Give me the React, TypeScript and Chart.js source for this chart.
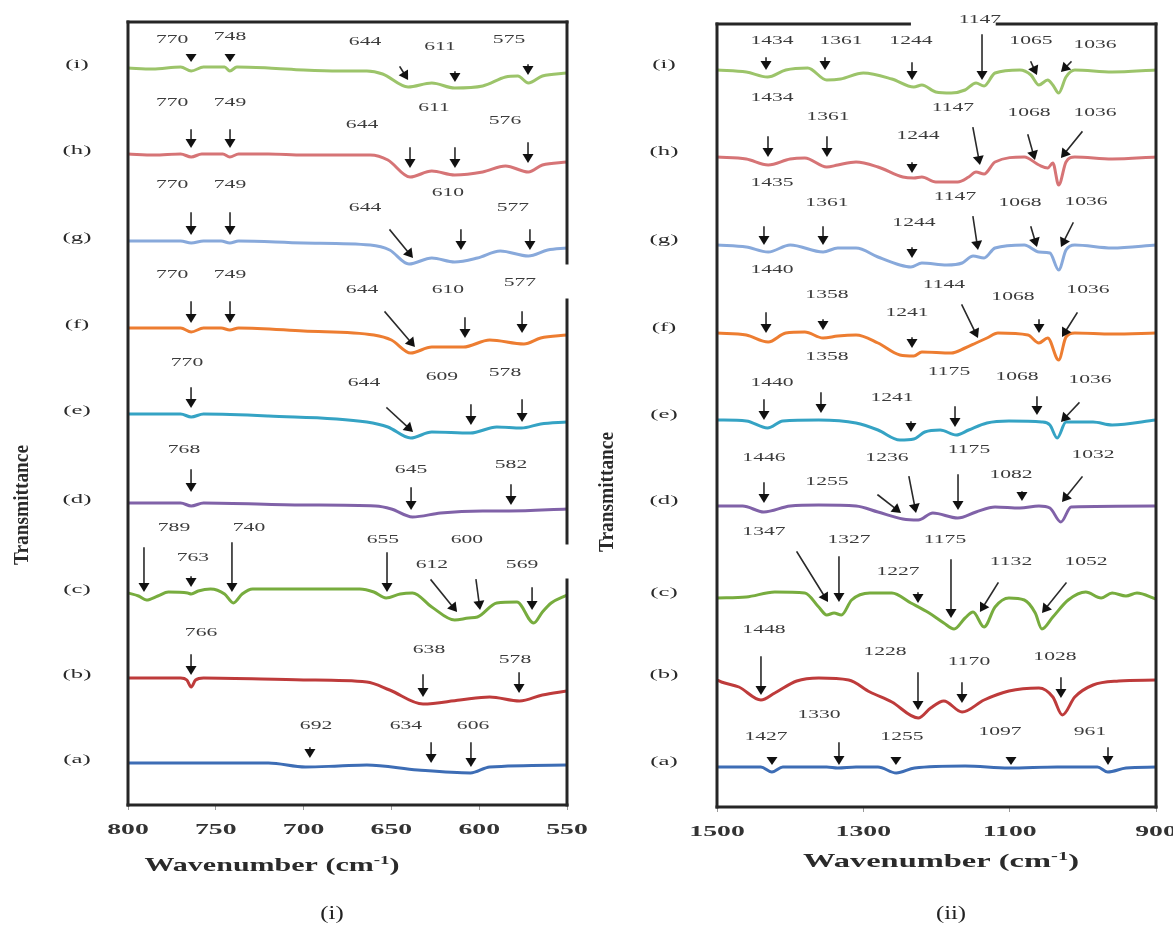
import React, { useEffect, useRef } from "react";
import { Chart, registerables } from "chart.js";

Chart.register(...registerables);

type Pt = [number, number];
// [label, tipWn, tipT, tailWn, tailT, labelWn, labelT]
type Ann = [string, number, number, number, number, number, number];

const seriesNames = ["(a)", "(b)", "(c)", "(d)", "(e)", "(f)", "(g)", "(h)", "(i)"];
const seriesColors = ["#3D6DB5", "#BE3B3B", "#77AC3E", "#8062A8", "#35A3C4", "#ED7D31", "#88A9DB", "#D67476", "#9CC46A"];

// Panel (i): wavenumber (cm-1), transmittance (a.u., stacked)
const left_a: Pt[] = [[800, 42], [720, 42], [699, 38], [680, 39], [664, 40], [635, 35], [605, 32], [594, 38], [550, 40]];
const left_b: Pt[] = [[800, 127], [770, 127], [766.5, 125], [764, 118], [761.5, 125], [757, 127], [700, 125], [664, 123], [651, 115], [632, 101], [611, 105], [594, 108], [577, 104], [564, 110], [550, 114]];
const left_c: Pt[] = [[800, 212], [794, 209], [789.5, 205], [783, 209], [777, 213], [766, 212], [764, 211], [760, 214], [753, 216], [745, 211], [740, 202], [735, 211], [729, 216], [700, 216], [668, 216], [660, 213], [653, 207], [645, 211], [638, 212], [627, 198], [614, 185], [606, 187], [601, 188], [590, 202], [578.5, 203], [569, 182], [564, 193], [559, 202], [550, 210]];
const left_d: Pt[] = [[800, 302], [770, 302], [764, 299], [757, 302], [700, 300], [659, 299], [650, 296], [638, 288], [622, 292], [598, 294], [583, 294], [550, 296]];
const left_e: Pt[] = [[800, 391], [770, 391], [764, 388], [757, 391], [720, 389], [664, 383], [652, 378], [639, 367], [627, 373], [605, 372], [590, 378], [576, 377], [565, 381], [550, 383]];
const left_f: Pt[] = [[800, 477], [770, 477], [764, 473], [757, 477], [747, 477], [742, 475], [737, 477], [700, 474], [660, 470], [650, 465], [639, 452], [627, 458], [609, 458], [594, 465], [574.5, 461], [565, 467], [550, 470]];
const left_g: Pt[] = [[800, 564], [770, 564], [764, 562], [757, 564], [747, 564], [742, 562], [737, 564], [700, 562], [662, 560], [651, 555], [640, 541], [627, 547], [614, 543], [601, 547], [588, 554], [572, 549], [561, 555], [550, 557]];
const left_h: Pt[] = [[800, 651], [785, 650], [770, 651], [764, 648], [758, 651], [746, 651], [742, 648], [737, 651], [720, 651], [700, 650], [662, 650], [652, 645], [639.4, 628], [627, 634], [614, 630], [598, 633], [585, 639], [572, 633], [564, 640], [550, 643]];
const left_i: Pt[] = [[800, 737], [786, 736], [770, 738], [764, 734], [757, 738], [745, 738], [742, 734], [738, 738], [720, 737], [700, 735], [680, 734], [664, 734], [655, 731], [640.5, 718], [627, 722], [614, 717], [598, 719], [585, 728], [578, 729], [572, 722], [564, 729], [550, 732]];

// Panel (ii)
const right_a: Pt[] = [[1500, 40], [1440, 40], [1425, 35], [1410, 40], [1350, 40], [1335, 39], [1310, 40], [1280, 40], [1255, 34], [1230, 39], [1161, 41], [1101, 39], [1035, 40], [980, 40], [966, 35], [941, 39], [900, 40]];
const right_b: Pt[] = [[1500, 127], [1494, 125], [1470, 120], [1440, 107], [1421, 114], [1391, 126], [1361, 129], [1320, 127], [1291, 115], [1261, 105], [1225, 89], [1208, 99], [1190, 106], [1165, 95], [1135, 107], [1101, 116], [1060, 119], [1041, 110], [1028, 92], [1011, 110], [986, 122], [951, 126], [900, 127]];
const right_c: Pt[] = [[1500, 209], [1460, 210], [1421, 215], [1380, 214], [1361, 200], [1350, 192], [1340, 194], [1330, 192], [1316, 207], [1291, 214], [1261, 214], [1235, 204], [1210, 194], [1190, 184], [1176, 178], [1161, 189], [1150, 195], [1135, 180], [1120, 200], [1101, 209], [1080, 207], [1065, 194], [1056, 178], [1041, 190], [1020, 207], [996, 215], [975, 209], [960, 214], [941, 211], [926, 214], [900, 208]];
const right_d: Pt[] = [[1500, 301], [1465, 301], [1436, 295], [1400, 301], [1361, 302], [1310, 301], [1280, 295], [1246, 288], [1225, 287], [1205, 294], [1171, 289], [1146, 295], [1120, 300], [1086, 299], [1060, 301], [1045, 299], [1030, 285], [1016, 300], [900, 301]];
const right_e: Pt[] = [[1500, 387], [1460, 386], [1431, 379], [1410, 386], [1361, 387], [1310, 384], [1280, 377], [1250, 367], [1231, 368], [1216, 375], [1195, 377], [1173, 372], [1156, 377], [1131, 384], [1101, 386], [1056, 385], [1045, 382], [1035, 369], [1023, 385], [986, 385], [960, 382], [900, 387]];
const right_f: Pt[] = [[1500, 474], [1460, 472], [1430, 465], [1406, 474], [1380, 475], [1355, 469], [1335, 471], [1310, 472], [1280, 464], [1250, 452], [1231, 451], [1220, 455], [1180, 454], [1161, 459], [1146, 464], [1131, 469], [1116, 474], [1075, 472], [1060, 464], [1048, 469], [1033, 447], [1023, 470], [1011, 474], [960, 473], [900, 474]];
const right_g: Pt[] = [[1500, 562], [1460, 560], [1430, 555], [1400, 562], [1355, 555], [1335, 559], [1310, 559], [1280, 550], [1250, 542], [1235, 540], [1220, 544], [1186, 542], [1165, 544], [1150, 551], [1135, 549], [1120, 559], [1080, 562], [1060, 555], [1045, 554], [1033, 537], [1023, 557], [1011, 562], [960, 559], [900, 562]];
const right_h: Pt[] = [[1500, 650], [1460, 648], [1430, 642], [1400, 648], [1380, 649], [1350, 640], [1335, 642], [1310, 645], [1280, 640], [1246, 630], [1231, 629], [1220, 630], [1201, 625], [1171, 625], [1156, 630], [1146, 635], [1135, 633], [1120, 645], [1080, 650], [1060, 642], [1048, 639], [1041, 644], [1033, 622], [1023, 645], [1011, 650], [960, 648], [900, 650]];
const right_i: Pt[] = [[1500, 737], [1460, 735], [1431, 730], [1406, 737], [1376, 739], [1350, 727], [1331, 728], [1300, 734], [1261, 728], [1231, 720], [1220, 722], [1201, 715], [1180, 714], [1161, 717], [1146, 724], [1135, 721], [1120, 734], [1086, 737], [1071, 732], [1060, 722], [1048, 727], [1041, 722], [1033, 714], [1023, 730], [1011, 737], [960, 735], [900, 737]];

const leftTicks = { min: 550, max: 800, step: 50 };
const rightTicks = { min: 900, max: 1500, step: 200 };

const leftPeaks: Ann[] = [
  ["770", 764.1, 743, 764.1, 751, 774.9, 765],
  ["748", 741.9, 743, 741.9, 751, 741.9, 768],
  ["644", 640.5, 725, 645.1, 738, 665.0, 763],
  ["611", 613.8, 723, 613.8, 733, 622.3, 758],
  ["575", 572.2, 730, 572.2, 740, 583.0, 765],
  ["770", 764.1, 657, 764.1, 675, 774.9, 702],
  ["749", 741.9, 657, 741.9, 675, 741.9, 702],
  ["644", 639.4, 637, 639.4, 657, 666.7, 680],
  ["611", 613.8, 637, 613.8, 657, 625.7, 697],
  ["576", 572.2, 642, 572.2, 662, 585.3, 684],
  ["770", 764.1, 570, 764.1, 592, 774.9, 620],
  ["749", 741.9, 570, 741.9, 592, 741.9, 620],
  ["644", 637.7, 547, 650.8, 575, 665.0, 597],
  ["610", 610.4, 555, 610.4, 575, 617.8, 612],
  ["577", 571.1, 555, 571.1, 575, 580.8, 597],
  ["770", 764.1, 482, 764.1, 503, 774.9, 530],
  ["749", 741.9, 482, 741.9, 503, 741.9, 530],
  ["644", 636.6, 458, 653.6, 493, 666.7, 515],
  ["610", 608.1, 467, 608.1, 487, 617.8, 515],
  ["577", 575.6, 472, 575.6, 493, 576.8, 522],
  ["770", 764.1, 397, 764.1, 417, 766.4, 442],
  ["644", 637.7, 373, 652.5, 397, 665.6, 422],
  ["609", 604.7, 380, 604.7, 400, 621.2, 428],
  ["578", 575.6, 383, 575.6, 405, 585.3, 432],
  ["768", 764.1, 313, 764.1, 335, 768.1, 355],
  ["645", 638.8, 295, 638.8, 317, 638.8, 335],
  ["582", 581.9, 300, 581.9, 320, 581.9, 340],
  ["789", 790.9, 213, 790.9, 257, 773.8, 277],
  ["763", 764.1, 218, 764.1, 228, 763.0, 247],
  ["740", 740.8, 213, 740.8, 262, 731.1, 277],
  ["655", 652.5, 213, 652.5, 252, 654.8, 265],
  ["612", 612.6, 193, 627.4, 225, 626.9, 240],
  ["600", 599.5, 195, 601.8, 225, 607.0, 265],
  ["569", 569.9, 195, 569.9, 217, 575.6, 240],
  ["766", 764.1, 130, 764.1, 150, 758.4, 172],
  ["638", 632.0, 108, 632.0, 130, 628.6, 155],
  ["578", 577.3, 112, 577.3, 132, 579.6, 145],
  ["692", 696.4, 47, 696.4, 57, 692.9, 79],
  ["634", 627.4, 42, 627.4, 62, 641.7, 79],
  ["606", 604.7, 38, 604.7, 62, 603.5, 79],
];

const rightPeaks: Ann[] = [
  ["1434", 1433.0, 737, 1433.0, 749, 1424.8, 766],
  ["1361", 1352.4, 737, 1352.4, 749, 1330.5, 766],
  ["1244", 1233.5, 727, 1233.5, 744, 1234.9, 766],
  ["1147", 1137.8, 727, 1137.8, 772, 1140.6, 787],
  ["1065", 1062.7, 732, 1070.9, 745, 1070.9, 766],
  ["1036", 1029.9, 735, 1016.2, 745, 983.4, 762],
  ["1434", 1430.3, 650, 1430.3, 670, 1424.8, 709],
  ["1361", 1349.7, 650, 1349.7, 670, 1348.3, 690],
  ["1244", 1233.5, 634, 1233.5, 644, 1225.3, 671],
  ["1147", 1140.6, 642, 1150.1, 679, 1177.5, 699],
  ["1068", 1065.4, 647, 1075.0, 672, 1073.6, 694],
  ["1036", 1029.9, 649, 1001.2, 675, 983.4, 694],
  ["1435", 1435.8, 562, 1435.8, 580, 1424.8, 624],
  ["1361", 1355.1, 562, 1355.1, 580, 1349.7, 604],
  ["1244", 1233.5, 549, 1233.5, 559, 1230.8, 584],
  ["1147", 1143.3, 557, 1150.1, 590, 1174.7, 610],
  ["1068", 1062.7, 560, 1070.9, 580, 1085.9, 604],
  ["1036", 1029.9, 560, 1013.4, 584, 995.7, 605],
  ["1440", 1433.0, 474, 1433.0, 494, 1424.8, 537],
  ["1358", 1355.1, 477, 1355.1, 487, 1349.7, 512],
  ["1241", 1233.5, 459, 1233.5, 469, 1240.3, 494],
  ["1144", 1143.3, 469, 1165.2, 502, 1189.8, 522],
  ["1068", 1059.9, 474, 1059.9, 487, 1095.5, 510],
  ["1036", 1028.5, 470, 1008.0, 494, 993.0, 517],
  ["1440", 1435.8, 387, 1435.8, 407, 1424.8, 424],
  ["1358", 1357.9, 394, 1357.9, 414, 1349.7, 450],
  ["1241", 1234.9, 375, 1234.9, 385, 1260.8, 409],
  ["1175", 1174.7, 380, 1174.7, 400, 1182.9, 435],
  ["1068", 1062.7, 392, 1062.7, 410, 1090.0, 430],
  ["1036", 1029.9, 385, 1005.3, 404, 990.2, 427],
  ["1446", 1435.8, 304, 1435.8, 324, 1435.8, 349],
  ["1255", 1248.5, 294, 1280.0, 312, 1349.7, 325],
  ["1236", 1228.0, 294, 1237.6, 330, 1267.7, 349],
  ["1175", 1170.6, 297, 1170.6, 332, 1155.6, 357],
  ["1082", 1083.2, 306, 1083.2, 315, 1098.2, 332],
  ["1032", 1028.5, 305, 1001.2, 330, 986.1, 352],
  ["1347", 1348.3, 205, 1390.7, 255, 1435.8, 275],
  ["1327", 1333.3, 205, 1333.3, 250, 1319.6, 267],
  ["1227", 1225.3, 204, 1225.3, 214, 1252.6, 235],
  ["1175", 1180.2, 189, 1180.2, 247, 1188.4, 267],
  ["1132", 1140.6, 195, 1116.0, 224, 1098.2, 245],
  ["1052", 1055.8, 194, 1023.0, 224, 995.7, 245],
  ["1448", 1439.9, 112, 1439.9, 150, 1435.8, 177],
  ["1228", 1225.3, 97, 1225.3, 134, 1270.4, 155],
  ["1170", 1165.2, 104, 1165.2, 124, 1155.6, 145],
  ["1028", 1029.9, 109, 1029.9, 129, 1038.1, 150],
  ["1427", 1424.8, 42, 1424.8, 50, 1433.0, 70],
  ["1330", 1333.3, 42, 1333.3, 64, 1360.6, 92],
  ["1255", 1255.4, 42, 1255.4, 50, 1247.2, 70],
  ["1097", 1098.2, 42, 1098.2, 50, 1113.2, 75],
  ["961", 965.6, 42, 965.6, 59, 990.2, 75],
];

const SERIF = '"Liberation Serif", "Times New Roman", serif';

function stretchText(ctx: CanvasRenderingContext2D, text: string, cx: number, cy: number, font: string, sx: number, color: string) {
  ctx.save();
  ctx.font = font;
  ctx.fillStyle = color;
  ctx.textAlign = "center";
  ctx.textBaseline = "middle";
  ctx.translate(cx, cy);
  ctx.scale(sx, 1);
  ctx.fillText(text, 0, 0);
  ctx.restore();
}

function drawArrow(ctx: CanvasRenderingContext2D, x1: number, y1: number, x2: number, y2: number) {
  const dx = x2 - x1, dy = y2 - y1;
  const L = Math.hypot(dx, dy) || 1;
  const ux = dx / L, uy = dy / L;
  const h = Math.max(Math.min(9, L), 7);
  const w = 5.5;
  if (L > h) {
    ctx.strokeStyle = "#2a2a2a";
    ctx.lineWidth = 1.6;
    ctx.beginPath();
    ctx.moveTo(x1, y1);
    ctx.lineTo(x2 - ux * h, y2 - uy * h);
    ctx.stroke();
  }
  const bx = x2 - ux * h, by = y2 - uy * h;
  ctx.fillStyle = "#111";
  ctx.beginPath();
  ctx.moveTo(x2, y2);
  ctx.lineTo(bx - uy * w, by + ux * w);
  ctx.lineTo(bx + uy * w, by - ux * w);
  ctx.closePath();
  ctx.fill();
}

interface PanelCfg {
  series: Pt[][];
  peaks: Ann[];
  ticks: { min: number; max: number; step: number };
  width: number;
  padLeft: number;
  padRight: number;
  padTop: number;
  axisH: number;
  labelX: number;
  labelDy: number;
  title: { cx: number; cy: number; w: number };
  sub: { text: string; cx: number; cy: number };
  ylab: { cx: number; cy: number };
  topGap?: [number, number];
  rightGaps?: [number, number][];
}

function overlayPlugin(cfg: PanelCfg) {
  return {
    id: "overlay",
    afterDatasetsDraw(chart: any) {
      const ctx: CanvasRenderingContext2D = chart.ctx;
      const ca = chart.chartArea;
      const xs = chart.scales.x;
      const ys = chart.scales.y;
      const L = ca.left, R = ca.right, T = ca.top, B = ca.bottom;
      ctx.save();
      // frame
      ctx.strokeStyle = "#262626";
      ctx.lineWidth = 3;
      ctx.lineCap = "square";
      const seg = (a: number, b: number, c: number, d: number) => {
        ctx.beginPath();
        ctx.moveTo(a, b);
        ctx.lineTo(c, d);
        ctx.stroke();
      };
      seg(L, T, L, B);
      seg(L, B, R, B);
      if (cfg.topGap) {
        const g1 = xs.getPixelForValue(cfg.topGap[0]);
        const g2 = xs.getPixelForValue(cfg.topGap[1]);
        seg(L, T, g1, T);
        seg(g2, T, R, T);
      } else seg(L, T, R, T);
      let y0 = T;
      const gaps = (cfg.rightGaps || []).map(([a, b]) => [ys.getPixelForValue(a), ys.getPixelForValue(b)]).sort((p, q) => p[0] - q[0]);
      for (const [g1, g2] of gaps) {
        seg(R, y0, R, g1);
        y0 = g2;
      }
      seg(R, y0, R, B);

      // peak arrows and labels
      for (const [txt, tw, tt, lw, lt, bw, bt] of cfg.peaks) {
        drawArrow(ctx, xs.getPixelForValue(lw), ys.getPixelForValue(lt), xs.getPixelForValue(tw), ys.getPixelForValue(tt));
        stretchText(ctx, txt, xs.getPixelForValue(bw), ys.getPixelForValue(bt), `12px ${SERIF}`, 1.8, "#3c3c3c");
      }

      // series labels
      cfg.series.forEach((s, i) => {
        const y = ys.getPixelForValue(s[0][1]) - cfg.labelDy;
        stretchText(ctx, seriesNames[i], cfg.labelX, y, `13px ${SERIF}`, 1.9, "#2a2a2a");
      });

      // tick labels
      for (const t of xs.ticks) {
        stretchText(ctx, String(t.value), xs.getPixelForValue(t.value), B + 25, `bold 15px ${SERIF}`, 1.85, "#333");
      }

      // x title with superscript
      {
        const f1 = `bold 19px ${SERIF}`, f2 = `bold 12px ${SERIF}`;
        ctx.font = f1;
        const w1 = ctx.measureText("Wavenumber (cm").width;
        const w3 = ctx.measureText(")").width;
        ctx.font = f2;
        const w2 = ctx.measureText("-1").width;
        const tot = w1 + w2 + w3;
        const sx = cfg.title.w / tot;
        ctx.save();
        ctx.translate(cfg.title.cx, cfg.title.cy);
        ctx.scale(sx, 1);
        ctx.fillStyle = "#2a2a2a";
        ctx.textBaseline = "middle";
        ctx.textAlign = "left";
        ctx.font = f1;
        ctx.fillText("Wavenumber (cm", -tot / 2, 0);
        ctx.font = f2;
        ctx.fillText("-1", -tot / 2 + w1, -5);
        ctx.font = f1;
        ctx.fillText(")", -tot / 2 + w1 + w2, 0);
        ctx.restore();
      }

      // y title
      {
        ctx.save();
        ctx.font = `bold 17px ${SERIF}`;
        const w = ctx.measureText("Transmittance").width;
        ctx.translate(cfg.ylab.cx, cfg.ylab.cy);
        ctx.rotate(-Math.PI / 2);
        ctx.scale(120 / w, 1.25);
        ctx.fillStyle = "#2a2a2a";
        ctx.textAlign = "center";
        ctx.textBaseline = "middle";
        ctx.fillText("Transmittance", 0, 0);
        ctx.restore();
      }

      stretchText(ctx, cfg.sub.text, cfg.sub.cx, cfg.sub.cy, `19px ${SERIF}`, 1.3, "#222");
      ctx.restore();
    },
  };
}

function Panel({ cfg, left }: { cfg: PanelCfg; left: number }) {
  const ref = useRef<HTMLCanvasElement | null>(null);
  useEffect(() => {
    if (!ref.current) return;
    const datasets = cfg.series.map((s, i) => ({
      label: seriesNames[i],
      data: [...s].sort((p, q) => q[0] - p[0]).map(([x, y]) => ({ x, y })),
      borderColor: seriesColors[i],
      backgroundColor: seriesColors[i],
      borderWidth: 3,
      pointRadius: 0,
      fill: false,
      cubicInterpolationMode: "monotone" as const,
    }));
    const chart = new Chart(ref.current, {
      type: "line",
      data: { datasets },
      options: {
        animation: false,
        responsive: false,
        events: [],
        layout: { padding: { left: cfg.padLeft, right: cfg.padRight, top: cfg.padTop, bottom: 0 } },
        plugins: { legend: { display: false }, tooltip: { enabled: false } },
        scales: {
          x: {
            type: "linear",
            reverse: true,
            min: cfg.ticks.min,
            max: cfg.ticks.max,
            afterFit: (s: any) => {
              s.height = cfg.axisH;
            },
            ticks: { display: false, stepSize: cfg.ticks.step },
            grid: { display: true, drawOnChartArea: false, drawTicks: true, tickLength: 5, color: "#9a9a9a", lineWidth: 1 },
            border: { display: false },
          },
          y: { type: "linear", display: false, min: 0, max: 783 },
        },
      },
      plugins: [overlayPlugin(cfg)],
    } as any);
    return () => chart.destroy();
  }, [cfg]);
  return (
    <canvas
      ref={ref}
      width={cfg.width}
      height={928}
      style={{ position: "absolute", left, top: 0, width: cfg.width, height: 928 }}
    />
  );
}

const leftCfg: PanelCfg = {
  series: [left_a, left_b, left_c, left_d, left_e, left_f, left_g, left_h, left_i],
  peaks: leftPeaks,
  ticks: leftTicks,
  width: 590,
  padLeft: 128,
  padRight: 23,
  padTop: 22,
  axisH: 123,
  labelX: 77,
  labelDy: 3,
  title: { cx: 272, cy: 866, w: 255 },
  sub: { text: "(i)", cx: 332, cy: 914 },
  ylab: { cx: 23, cy: 505 },
  rightGaps: [[542, 505], [262, 225]],
};

const rightCfg: PanelCfg = {
  series: [right_a, right_b, right_c, right_d, right_e, right_f, right_g, right_h, right_i],
  peaks: rightPeaks,
  ticks: rightTicks,
  width: 583,
  padLeft: 127,
  padRight: 17,
  padTop: 24,
  axisH: 121,
  labelX: 74,
  labelDy: 5,
  title: { cx: 351, cy: 862, w: 276 },
  sub: { text: "(ii)", cx: 361, cy: 914 },
  ylab: { cx: 18, cy: 492 },
  topGap: [1237, 1117],
};

export default function App() {
  return (
    <div style={{ position: "absolute", left: 0, top: 0, width: 1173, height: 928, background: "#fff", overflow: "hidden" }}>
      <Panel cfg={leftCfg} left={0} />
      <Panel cfg={rightCfg} left={590} />
    </div>
  );
}
